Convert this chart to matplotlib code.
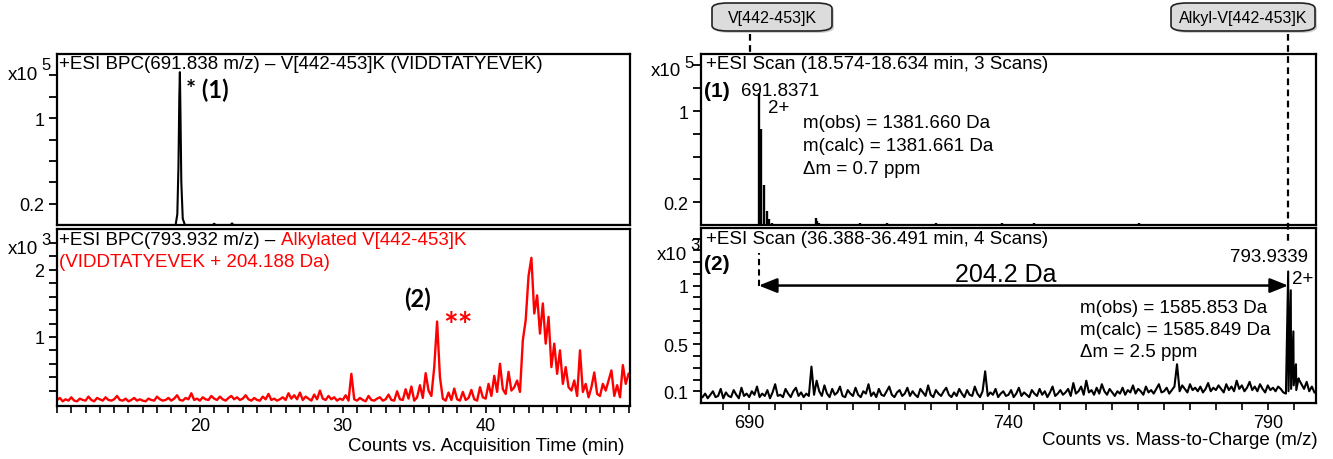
import matplotlib
matplotlib.use("Agg")
import matplotlib.pyplot as plt
import matplotlib.transforms as mtransforms
from matplotlib.patches import FancyBboxPatch
from matplotlib.lines import Line2D
from matplotlib.ticker import FixedLocator, MultipleLocator, FormatStrFormatter
import numpy as np

plt.rcParams['font.family'] = ['Liberation Sans', 'DejaVu Sans']

W, H = 1333, 460

# ---- data -------------------------------------------------------------
# BPC 691.838 (x10^5)
bpc1_time = [10.0, 18.30, 18.42, 18.50, 18.56, 18.60, 18.64, 18.70, 18.80, 18.95,
             20.90, 21.00, 21.10, 22.15, 22.25, 22.35, 50.0]
bpc1_int = [0.0, 0.0, 0.10, 0.55, 1.20, 1.43, 1.05, 0.40, 0.06, 0.0,
            0.0, 0.012, 0.0, 0.0, 0.015, 0.0, 0.0]

# BPC 793.932 (x10^3), one value every 0.2 min from 10 to 50 min
bpc2_start, bpc2_step = 10.0, 0.2
bpc2_int = [
    0.06, 0.09, 0.04, 0.07, 0.05, 0.10, 0.05, 0.04, 0.08, 0.06, 0.05, 0.11, 0.06, 0.04, 0.09, 0.07, 0.05, 0.10, 0.06, 0.05,
    0.07, 0.12, 0.06, 0.05, 0.08, 0.04, 0.06, 0.09, 0.05, 0.07, 0.05, 0.04, 0.08, 0.06, 0.05, 0.11, 0.07, 0.05, 0.06, 0.09,
    0.05, 0.08, 0.13, 0.06, 0.05, 0.09, 0.07, 0.16, 0.06, 0.08, 0.05, 0.10, 0.07, 0.06, 0.12, 0.08, 0.06, 0.11, 0.07, 0.05,
    0.09, 0.12, 0.07, 0.10, 0.06, 0.08, 0.13, 0.07, 0.05, 0.09, 0.06, 0.05, 0.11, 0.07, 0.15, 0.06, 0.08, 0.05, 0.07, 0.10,
    0.06, 0.16, 0.08, 0.13, 0.07, 0.17, 0.06, 0.11, 0.08, 0.05, 0.14, 0.07, 0.20, 0.08, 0.06, 0.12, 0.07, 0.10, 0.05, 0.08,
    0.06, 0.13, 0.05, 0.45, 0.07, 0.05, 0.09, 0.06, 0.04, 0.12, 0.06, 0.05, 0.08, 0.10, 0.05, 0.07, 0.14, 0.06, 0.05, 0.19,
    0.07, 0.06, 0.22, 0.08, 0.26, 0.05, 0.10, 0.28, 0.09, 0.46, 0.20, 0.12, 0.55, 1.23, 0.40, 0.08, 0.05, 0.17, 0.06, 0.23,
    0.07, 0.05, 0.18, 0.06, 0.09, 0.21, 0.07, 0.05, 0.25, 0.10, 0.08, 0.30, 0.12, 0.42, 0.18, 0.60, 0.22, 0.15, 0.48, 0.20,
    0.25, 0.35, 0.18, 0.95, 1.25, 1.91, 2.18, 1.35, 1.62, 1.05, 1.50, 0.90, 1.30, 0.55, 0.90, 0.45, 0.80, 0.30, 0.55, 0.25,
    0.20, 0.35, 0.12, 0.80, 0.18, 0.30, 0.10, 0.25, 0.47, 0.15, 0.12, 0.30, 0.20, 0.35, 0.50, 0.12, 0.28, 0.10, 0.58, 0.30,
    0.45]

mz_peak1 = 691.8371
mz_peak2 = 793.9339

# scan 1 (x10^5), centroid sticks
scan1_mz = [691.837, 692.338, 692.839, 693.340, 693.841, 694.34,
            702.9, 703.1, 703.4, 711.3, 716.5, 720.2, 726.0, 731.4,
            738.8, 741.5, 745.0, 752.6, 758.3, 765.1, 770.2, 776.4]
scan1_int = [1.16, 0.84, 0.35, 0.12, 0.05, 0.02,
             0.06, 0.035, 0.02, 0.02, 0.015, 0.012, 0.018, 0.012,
             0.02, 0.012, 0.015, 0.012, 0.01, 0.015, 0.012, 0.01]

# scan 2 (x10^3): noise every 0.5 m/z from 681 to 799, plus isotope cluster
scan2_start, scan2_step = 681.0, 0.5
scan2_noise = [
    0.05, 0.08, 0.04, 0.07, 0.10, 0.05, 0.06, 0.12, 0.04, 0.09, 0.06, 0.05, 0.11, 0.07, 0.04, 0.13, 0.06, 0.08, 0.05, 0.10,
    0.07, 0.14, 0.05, 0.08, 0.06, 0.11, 0.04, 0.09, 0.16, 0.06, 0.07, 0.05, 0.12, 0.08, 0.05, 0.10, 0.13, 0.06, 0.09, 0.05,
    0.08, 0.06, 0.31, 0.07, 0.19, 0.10, 0.06, 0.15, 0.08, 0.05, 0.12, 0.07, 0.09, 0.14, 0.06, 0.05, 0.11, 0.08, 0.06, 0.13,
    0.07, 0.05, 0.10, 0.08, 0.16, 0.06, 0.09, 0.05, 0.12, 0.07, 0.06, 0.10, 0.14, 0.07, 0.05, 0.09, 0.11, 0.06, 0.08, 0.13,
    0.06, 0.10, 0.07, 0.05, 0.12, 0.09, 0.06, 0.15, 0.07, 0.05, 0.11, 0.08, 0.06, 0.10, 0.13, 0.07, 0.05, 0.09, 0.06, 0.12,
    0.08, 0.05, 0.11, 0.07, 0.06, 0.14, 0.08, 0.05, 0.10, 0.27, 0.06, 0.09, 0.07, 0.12, 0.05, 0.08, 0.10, 0.06, 0.07, 0.11,
    0.05, 0.08, 0.13, 0.06, 0.09, 0.07, 0.05, 0.11, 0.08, 0.06, 0.12, 0.07, 0.10, 0.05, 0.09, 0.14, 0.06, 0.08, 0.11, 0.07,
    0.09, 0.12, 0.06, 0.17, 0.08, 0.10, 0.14, 0.07, 0.19, 0.09, 0.11, 0.07, 0.13, 0.08, 0.16, 0.10, 0.07, 0.12, 0.09, 0.06,
    0.10, 0.08, 0.13, 0.07, 0.11, 0.09, 0.15, 0.08, 0.12, 0.10, 0.07, 0.14, 0.09, 0.11, 0.08, 0.12, 0.16, 0.09, 0.10, 0.13,
    0.08, 0.11, 0.14, 0.33, 0.10, 0.15, 0.12, 0.09, 0.16, 0.11, 0.13, 0.10, 0.14, 0.09, 0.12, 0.17, 0.10, 0.13, 0.11, 0.15,
    0.12, 0.09, 0.16, 0.11, 0.14, 0.10, 0.19, 0.12, 0.15, 0.10, 0.13, 0.18, 0.11, 0.14, 0.10, 0.16, 0.12, 0.09, 0.15, 0.11,
    0.13, 0.10, 0.14, 0.12, 0.09, 0.08, 0.10, 0.12, 0.15, 0.11, 0.20, 0.16, 0.12, 0.18, 0.10, 0.14, 0.09]
scan2_iso_mz = [793.934, 794.435, 794.937, 795.438, 795.94]
scan2_iso_int = [1.12, 0.96, 0.61, 0.33, 0.21]


def fx(px):
    return px / W


def fy(py):
    return 1 - py / H


def style_axis(ax):
    for s in ax.spines.values():
        s.set_linewidth(1.6)
    ax.tick_params(axis='both', which='both', direction='out', labelsize=13, width=1.2, length=5, pad=4)


def set_yticks(ax, major, minor):
    ax.yaxis.set_major_locator(FixedLocator(major))
    ax.yaxis.set_minor_locator(FixedLocator(minor))
    ax.yaxis.set_major_formatter(FormatStrFormatter('%g'))
    ax.yaxis.set_ticks_position('left')
    ax.tick_params(axis='y', which='both', direction='out', left=True, length=6, width=1.3, pad=3)


fig = plt.figure(figsize=(W / 100, H / 100), dpi=100)

ax1 = fig.add_axes([fx(57), fy(226), fx(630 - 57), (226 - 55) / H])
ax2 = fig.add_axes([fx(57), fy(407), fx(630 - 57), (407 - 230) / H])
ax3 = fig.add_axes([fx(701), fy(226), fx(1316 - 701), (226 - 55) / H])
ax4 = fig.add_axes([fx(701), fy(404), fx(1316 - 701), (404 - 229) / H])
for a in (ax1, ax2, ax3, ax4):
    style_axis(a)

# ---- left top -------------------------------------------------------
ax1.plot(bpc1_time, bpc1_int, color='black', lw=1.5)
ax1.set_xlim(10, 50.1)
ax1.set_ylim(0, 1.6)
set_yticks(ax1, [0.2, 1], [0.4, 0.6, 0.8, 1.2, 1.4])
ax1.tick_params(axis='x', which='both', bottom=False, labelbottom=False)
ax1.text(0.004, 0.995, '+ESI BPC(691.838 m/z) \u2013 V[442-453]K (VIDDTATYEVEK)',
         transform=ax1.transAxes, ha='left', va='top', fontsize=13.5)
ax1.text(19.0, 1.27, '* (1)', ha='left', va='center', fontsize=17,
         fontweight='bold', family=['Lato', 'DejaVu Sans'])

# ---- left bottom ----------------------------------------------------
t2 = bpc2_start + bpc2_step * np.arange(len(bpc2_int))
ax2.plot(t2, bpc2_int, color='#ff0000', lw=1.7)
ax2.set_xlim(10, 50.1)
ax2.set_ylim(-0.03, 2.61)
set_yticks(ax2, [1, 2], [0.2, 0.4, 0.6, 0.8, 1.2, 1.4, 1.6, 1.8, 2.2, 2.4])
ax2.xaxis.set_major_locator(FixedLocator([20, 30, 40]))
ax2.xaxis.set_minor_locator(MultipleLocator(1))
ax2.tick_params(axis='x', which='both', length=5, pad=3)
t_a = ax2.text(0.004, 0.99, '+ESI BPC(793.932 m/z) \u2013 ', transform=ax2.transAxes,
               ha='left', va='top', fontsize=13.5, color='black')
ax2.annotate('Alkylated V[442-453]K', xy=(1, 0), xycoords=t_a, ha='left', va='bottom',
             fontsize=13.5, color='#ff0000')
ax2.text(0.004, 0.865, '(VIDDTATYEVEK + 204.188 Da)', transform=ax2.transAxes,
         ha='left', va='top', fontsize=13.5, color='#ff0000')
ax2.text(35.25, 1.57, '(2)', ha='center', va='center', fontsize=17, fontweight='bold',
         family=['Lato', 'DejaVu Sans'])
ax2.text(38.05, 1.17, '**', ha='center', va='center', fontsize=25, fontweight='bold',
         color='#ff0000', family=['Lato', 'DejaVu Sans'])

# ---- right top ------------------------------------------------------
ax3.vlines(scan1_mz, 0, scan1_int, color='black', lw=1.7)
ax3.set_xlim(680.7, 799.3)
ax3.set_ylim(0, 1.5)
set_yticks(ax3, [0.2, 1], [0.4, 0.6, 0.8, 1.2, 1.4])
ax3.tick_params(axis='x', which='both', bottom=False, labelbottom=False)
ax3.text(0.008, 0.995, '+ESI Scan (18.574-18.634 min, 3 Scans)', transform=ax3.transAxes,
         ha='left', va='top', fontsize=13.5)
ax3.text(681.3, 1.18, '(1)', ha='left', va='center', fontsize=15, fontweight='bold')
ax3.text(688.4, 1.18, '%.4f' % mz_peak1, ha='left', va='center', fontsize=13.5)
ax3.text(693.6, 1.03, '2+', ha='left', va='center', fontsize=13.5)
ax3.text(700.4, 0.895, 'm(obs) = 1381.660 Da', ha='left', va='center', fontsize=13.5)
ax3.text(700.4, 0.695, 'm(calc) = 1381.661 Da', ha='left', va='center', fontsize=13.5)
ax3.text(700.4, 0.50, '\u0394m = 0.7 ppm', ha='left', va='center', fontsize=13.5)

# ---- right bottom ---------------------------------------------------
mz2 = scan2_start + scan2_step * np.arange(len(scan2_noise))
mz_all = np.concatenate([mz2, scan2_iso_mz])
int_all = np.concatenate([scan2_noise, scan2_iso_int])
order = np.argsort(mz_all)
ax4.plot(mz_all[order], int_all[order], color='black', lw=1.5)
ax4.set_xlim(680.7, 799.3)
ax4.set_ylim(0, 1.49)
set_yticks(ax4, [0.1, 0.5, 1], [0.2, 0.3, 0.4, 0.6, 0.7, 0.8, 0.9, 1.1, 1.2, 1.3, 1.4])
ax4.xaxis.set_major_locator(FixedLocator([690, 740, 790]))
ax4.xaxis.set_minor_locator(MultipleLocator(5))
ax4.tick_params(axis='x', which='both', length=5, pad=3)
ax4.text(0.008, 0.99, '+ESI Scan (36.388-36.491 min, 4 Scans)', transform=ax4.transAxes,
         ha='left', va='top', fontsize=13.5)
ax4.text(681.3, 1.185, '(2)', ha='left', va='center', fontsize=15, fontweight='bold')
ax4.text(797.8, 1.245, '%.4f' % mz_peak2, ha='right', va='center', fontsize=13.5)
ax4.text(794.7, 1.06, '2+', ha='left', va='center', fontsize=13.5)
ax4.text(753.8, 0.815, 'm(obs) = 1585.853 Da', ha='left', va='center', fontsize=13.5)
ax4.text(753.8, 0.625, 'm(calc) = 1585.849 Da', ha='left', va='center', fontsize=13.5)
ax4.text(753.8, 0.437, '\u0394m = 2.5 ppm', ha='left', va='center', fontsize=13.5)
ax4.annotate('', xy=(mz_peak2, 1.0), xytext=(mz_peak1, 1.0),
             arrowprops=dict(arrowstyle='<|-|>,head_length=0.5,head_width=0.2', color='black',
                             lw=1.8, mutation_scale=22, shrinkA=0, shrinkB=0))
ax4.plot([mz_peak1, mz_peak1], [1.0, 1.28], color='black', lw=1.5, ls=(0, (3, 2)))
ax4.text(739.5, 1.10, '204.2 Da', ha='center', va='center', fontsize=18)

# ---- y scale labels -------------------------------------------------
for (xp, yp, exp) in [(8, 75, '5'), (8, 250, '3'), (651, 72, '5'), (657, 255, '3')]:
    fig.text(fx(xp), fy(yp), 'x10', ha='left', va='center', fontsize=13.5)
    fig.text(fx(xp + 33), fy(yp - 9), exp, ha='left', va='center', fontsize=12)

fig.text(fx(624), fy(447), 'Counts vs. Acquisition Time (min)', ha='right', va='center', fontsize=13.5)
fig.text(fx(1318), fy(441), 'Counts vs. Mass-to-Charge (m/z)', ha='right', va='center', fontsize=13.5)

# ---- callout boxes --------------------------------------------------
for (x0, x1, label) in [(712, 832, 'V[442-453]K'), (1171, 1315, 'Alkyl-V[442-453]K')]:
    shadow = FancyBboxPatch((fx(x0 + 2), fy(34)), fx(x1 - x0), (32 - 4) / H,
                            boxstyle='round,pad=0,rounding_size=0.012',
                            transform=fig.transFigure, facecolor='#b0b0b0', edgecolor='none',
                            alpha=0.6, mutation_aspect=H / W * 2.9)
    box = FancyBboxPatch((fx(x0), fy(32)), fx(x1 - x0), (32 - 4) / H,
                         boxstyle='round,pad=0,rounding_size=0.012',
                         transform=fig.transFigure, facecolor='#dcdcdc', edgecolor='#222222',
                         lw=1.2, mutation_aspect=H / W * 2.9)
    fig.add_artist(shadow)
    fig.add_artist(box)
    fig.text(fx((x0 + x1) / 2), fy(18), label, ha='center', va='center', fontsize=11.5)

trans = mtransforms.blended_transform_factory(ax3.transData, fig.transFigure)
fig.add_artist(Line2D([690.15, 690.15], [fy(35), fy(55)], transform=trans,
                      color='black', lw=1.6, ls=(0, (3, 2))))
fig.add_artist(Line2D([mz_peak2, mz_peak2], [fy(35), fy(246)], transform=trans,
                      color='black', lw=1.6, ls=(0, (3, 2))))

fig.savefig('out.png', dpi=100)
